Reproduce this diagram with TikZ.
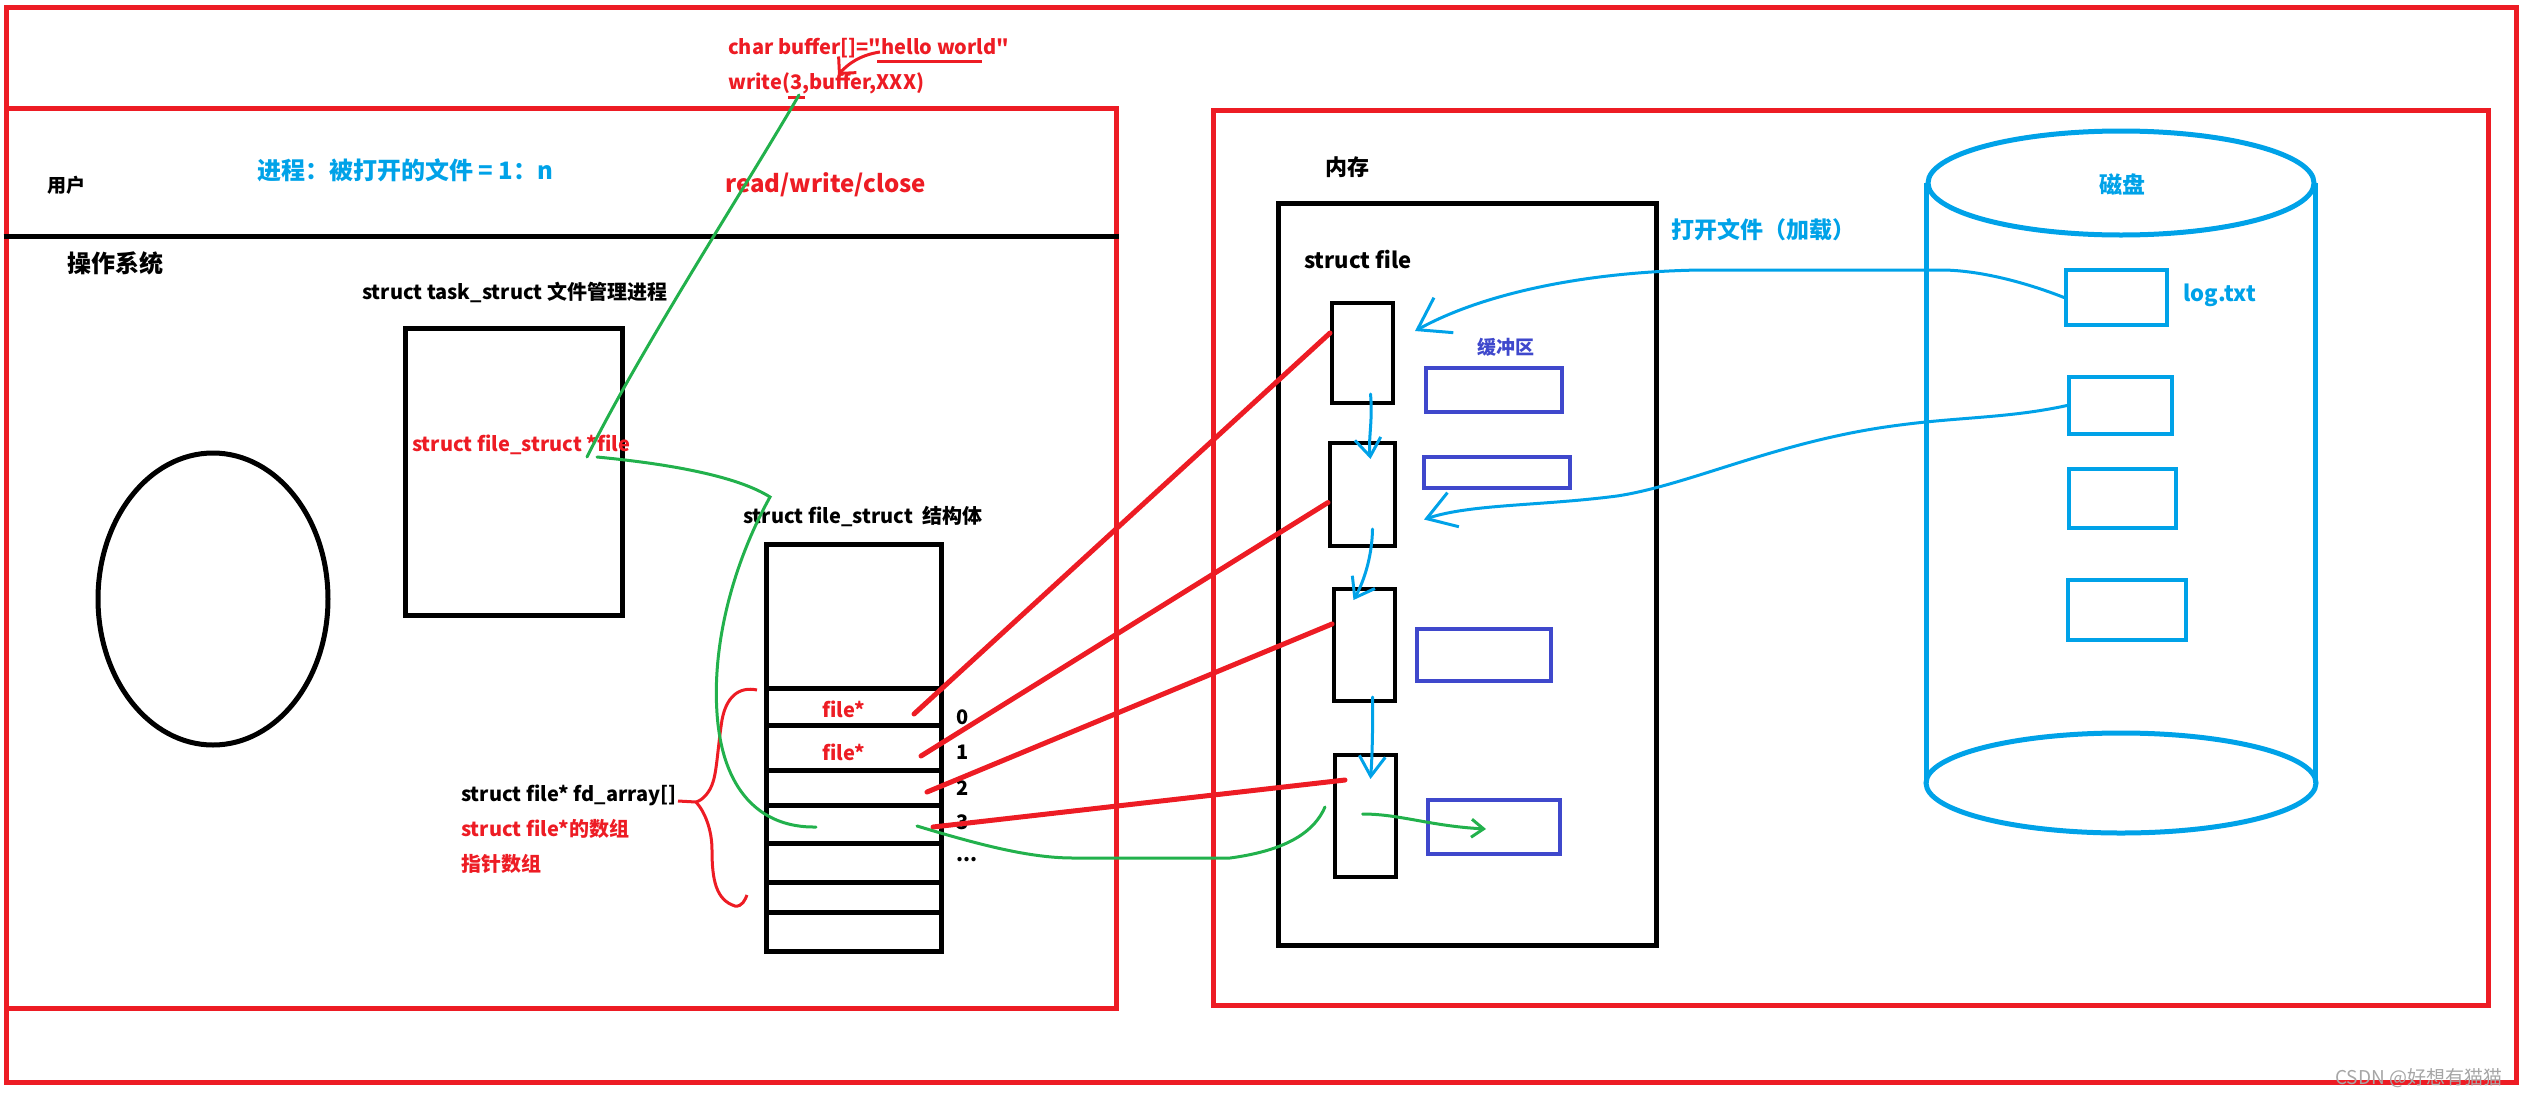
\documentclass[tikz,border=0pt]{standalone}
\usepackage{fontspec}
\setmainfont{Noto Sans CJK SC}[Ligatures=TeXOff]
\usetikzlibrary{arrows.meta,fit}

\definecolor{paintred}{HTML}{ED1C24}
\definecolor{paintblue}{HTML}{00A2E8}
\definecolor{paintindigo}{HTML}{3F48CC}
\definecolor{paintgreen}{HTML}{22B14C}

\newcommand{\txtsize}[1]{\fontsize{#1}{#1}\selectfont\bfseries}

\tikzset{
  redpen/.style={draw=paintred,line width=5pt},
  redbox/.style={draw=paintred,line width=5pt,inner sep=0pt},
  box/.style={draw,line width=5pt,inner sep=0pt},
  fbox/.style={draw,line width=4pt,inner sep=0pt},
  bufbox/.style={draw=paintindigo,line width=4pt,inner sep=0pt},
  diskbox/.style={draw=paintblue,line width=4pt,inner sep=0pt},
  greenpen/.style={paintgreen,line width=3pt,line cap=round},
  bluepen/.style={paintblue,line width=3pt,line cap=round},
  ptr/.style={paintred,line width=5pt,line cap=round},
  txt/.style={inner sep=0pt,anchor=west,font=\txtsize{20}},
}

\begin{document}
\begin{tikzpicture}[x=1pt,y=-1pt]
\useasboundingbox (0,0) rectangle (2521,1098);

% frames
\draw[redpen] (6,7) rectangle (2516,1082);
\node[redbox,fit={(6,108)(1116,1008)}] (osbox) {};
\node[redbox,fit={(1213,110)(2488,1005)}] (membox) {};
\coordinate (userline) at (0,236);
\draw[line width=5pt] (osbox.west |- userline) -- (osbox.east |- userline);

% user space
\node[txt,text=paintred] (chr) at (728,48) {char buffer[]="hello world"};
\node[txt,text=paintred] (wr) at (728,83) {write(3,buffer,XXX)};
\node[txt,text=paintred,font=\txtsize{24}] (rwc) at (725,185) {read/write/close};
\node[txt,font=\txtsize{19}] (user) at (47,185) {用户};
\node[txt,text=paintblue,font=\txtsize{24}] (ratio) at (257,170) {进程：被打开的文件 = 1：n};

\draw[paintred,line width=3pt] (877,61) -- (982,61);
\draw[paintred,line width=3pt] (788,97) -- (805,97);
\coordinate (hw) at (880,52);
\coordinate (bf) at (838,75);
\draw[paintred,line width=3pt,-{Straight Barb[length=12pt,width=24pt]}] (hw) .. controls (860,55) and (848,64) .. (bf);

% os side
\node[txt,font=\txtsize{24}] (osname) at (67,263) {操作系统};
\draw[line width=5pt] (213,599) ellipse (115 and 146);

\node[txt] (tasklab) at (362,292) {struct task\_struct 文件管理进程};
\node[box,fit={(405,328)(622,615)}] (task) {};
\node[txt,text=paintred] (tfile) at (412,445) {struct file\_struct *file};

\node[txt] (fslab) at (743,517) {struct file\_struct\ \ 结构体};
\node[box,fit={(766,544)(941,951)}] (fs) {};
\foreach \n/\ya/\yb in {0/688/725,1/725/770,2/770/805,3/805/843,4/843/882,5/882/912}
  \node[box,fit={(766,\ya)(941,\yb)}] (row\n) {};
\node[txt,text=paintred] (fp0) at (822,709) {file*};
\node[txt,text=paintred] (fp1) at (822,752) {file*};
\foreach \n/\y in {0/717,1/752,2/788,3/822}
  \node[txt] (idx\n) at (956,\y) {\n};
\node[txt] (idxmore) at (956,860) {...};

\node[txt] (arrlab) at (461,795) {struct file* fd\_array[]};
\node[txt,text=paintred] (arrred) at (461,829) {struct file*的数组};
\node[txt,text=paintred] (ptrarr) at (461,864) {指针数组};
\draw[paintred,line width=3pt] (757,690) .. controls (738,686) and (726,698) .. (722,720)
  .. controls (718,745) and (717,770) .. (713,782) .. controls (710,792) and (703,800) .. (696,802) -- (678,801);
\draw[paintred,line width=3pt] (696,802) .. controls (705,812) and (712,830) .. (712,850)
  .. controls (712,880) and (716,900) .. (735,906) .. controls (742,907) and (745,900) .. (747,895);

% memory side
\node[txt,font=\txtsize{22}] (memlab) at (1325,167) {内存};
\node[box,fit={(1278,203)(1656,945)}] (sfbox) {};
\node[txt,font=\txtsize{22}] (sflab) at (1304,260) {struct file};
\node[fbox,fit={(1332,303)(1393,403)}] (f1) {};
\node[fbox,fit={(1330,443)(1395,546)}] (f2) {};
\node[fbox,fit={(1334,589)(1395,701)}] (f3) {};
\node[fbox,fit={(1335,755)(1396,877)}] (f4) {};
\node[bufbox,fit={(1426,368)(1562,412)}] (b1) {};
\node[bufbox,fit={(1424,457)(1570,488)}] (b2) {};
\node[bufbox,fit={(1417,629)(1551,681)}] (b3) {};
\node[bufbox,fit={(1428,800)(1560,854)}] (b4) {};
\node[txt,text=paintindigo,font=\txtsize{19}] (buflab) at (1477,347) {缓冲区};
\node[txt,text=paintblue,font=\txtsize{23}] (openlab) at (1671,230) {打开文件（加载）};

% disk
\draw[paintblue,line width=5pt] (2121,183) ellipse (193 and 52);
\draw[paintblue,line width=5pt] (2121,783) ellipse (195 and 50);
\draw[paintblue,line width=5pt] (1926,183) -- (1926,783);
\draw[paintblue,line width=5pt] (2315,183) -- (2315,783);
\node[txt,text=paintblue,font=\txtsize{23}] (disklab) at (2099,185) {磁盘};
\node[diskbox,fit={(2066,270)(2167,325)}] (d1) {};
\node[diskbox,fit={(2069,377)(2172,434)}] (d2) {};
\node[diskbox,fit={(2069,469)(2176,528)}] (d3) {};
\node[diskbox,fit={(2068,580)(2186,640)}] (d4) {};
\node[txt,text=paintblue,font=\txtsize{22}] (loglab) at (2183,295) {log.txt};

% pointers fd -> struct file
\coordinate (p0) at (914,714);
\coordinate (p1) at (921,756);
\coordinate (p2) at (927,792);
\coordinate (p3) at (933,827);
\draw[ptr] (p0) -- ([yshift=20pt]f1.west);
\draw[ptr] (p1) -- ([yshift=-8pt]f2.west);
\draw[ptr] (p2) -- ([yshift=21pt]f3.west);
\draw[ptr] (p3) -- ([xshift=12pt,yshift=36pt]f4.west);

% green: write(3,...) -> fd 3 -> struct file -> buffer
\coordinate (three) at (799,95);
\coordinate (fileup) at (587,457);
\coordinate (fileout) at (597,457);
\coordinate (slot3in) at (816,827);
\coordinate (slot3out) at (917,826);
\draw[greenpen] (three) .. controls (750,180) and (640,350) .. (fileup);
\draw[greenpen] (fileout) .. controls (680,465) and (740,478) .. (770,497)
  .. controls (735,560) and (712,640) .. (717,713) .. controls (722,790) and (760,828) .. (slot3in);
\draw[greenpen] (slot3out) .. controls (980,845) and (1030,858) .. (1073,858) -- (1230,858)
  .. controls (1290,850) and (1315,830) .. ([xshift=-8pt,yshift=9pt]f4.west);
\draw[greenpen,-{Straight Barb[length=12pt,width=18pt]}] ([xshift=-3pt,yshift=2pt]f4.center) .. controls (1400,814) and (1430,826) .. ([xshift=-8pt,yshift=-2pt]b4.center);

% blue: disk -> struct file, chain
\draw[bluepen,-{Straight Barb[length=30pt,width=40pt]}] (d1.west) .. controls (2040,288) and (1990,271) .. (1944,270)
  -- (1700,270) .. controls (1580,272) and (1480,295) .. ([xshift=20pt,yshift=22pt]f1.east);
\draw[bluepen,-{Straight Barb[length=28pt,width=36pt]}] (d2.west) .. controls (2010,418) and (1960,417) .. (1900,425)
  .. controls (1780,440) and (1690,485) .. (1617,496) .. controls (1540,506) and (1470,504) .. ([xshift=27pt,yshift=-25pt]f2.east);
\draw[bluepen,-{Straight Barb[length=18pt,width=26pt]}] ([xshift=8pt,yshift=11pt]f1.south) .. controls (1373,420) and (1368,440) .. ([xshift=8pt,yshift=-18pt]f2.north);
\draw[bluepen,-{Straight Barb[length=18pt,width=26pt]}] ([xshift=10pt,yshift=19pt]f2.south) .. controls (1372,560) and (1362,585) .. ([xshift=-11pt,yshift=-13pt]f3.north);
\draw[bluepen,-{Straight Barb[length=20pt,width=26pt]}] ([xshift=8pt,yshift=6pt]f3.south) .. controls (1373,730) and (1372,760) .. ([xshift=5pt,yshift=-26pt]f4.north);

% watermark
\node[inner sep=0pt,anchor=west,text=black!35,font=\fontsize{19}{19}\selectfont] (mark) at (2335,1078) {CSDN @好想有猫猫};

\end{tikzpicture}
\end{document}
